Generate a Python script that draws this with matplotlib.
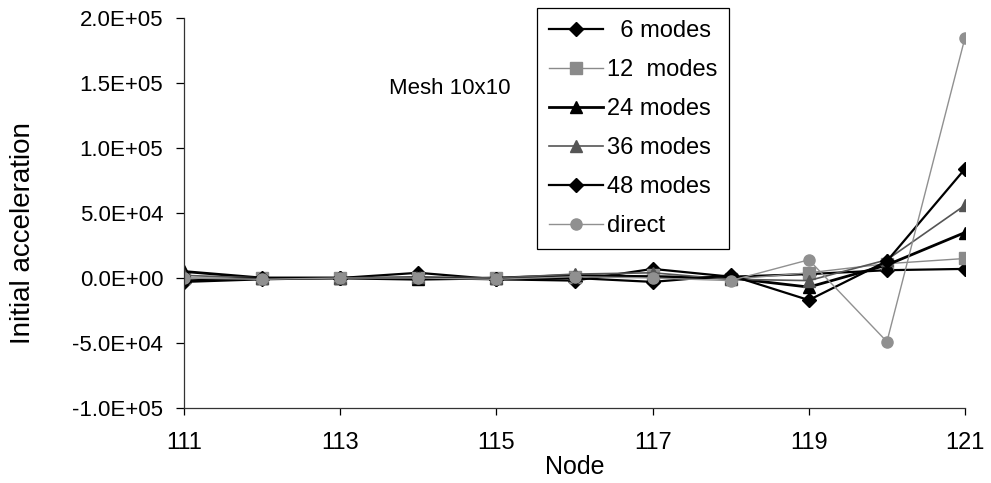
import matplotlib
matplotlib.use("Agg")
import matplotlib.pyplot as plt
from matplotlib.ticker import FuncFormatter, MultipleLocator

plt.rcParams["font.family"] = ["Liberation Sans", "DejaVu Sans"]

# ==============================
# DATA (initial acceleration per node)
# ==============================

nodes = [111, 112, 113, 114, 115, 116, 117, 118, 119, 120, 121]

modes_6 = [-3e3, -1e3, 0, 4e3, -1e3, -2e3, 7e3, 1e3, 3e3, 6e3, 7e3]
modes_12 = [0, 0, 0, 0, 0, 1e3, 2e3, -1e3, 4e3, 11e3, 15e3]
modes_24 = [5e3, 0, 0, -1e3, 0, 2e3, 1e3, 0, -7e3, 10e3, 35e3]
modes_36 = [2e3, 0, 0, 1e3, 0, 3e3, 4e3, -1e3, -2e3, 14e3, 56e3]
modes_48 = [-2e3, 0, 0, 0, -1e3, 0, -3e3, 2e3, -17e3, 13e3, 84e3]
direct = [0, -1e3, 0, 0, -1e3, 1e3, 0, -2e3, 14e3, -49e3, 185e3]

series_labels = ["  6 modes", "12  modes", "24 modes", "36 modes", "48 modes", "direct"]
x_ticks = [111, 113, 115, 117, 119, 121]


# ==============================
# PLOT
# ==============================

fig = plt.figure(figsize=(9.91, 4.83), dpi=100)
ax = fig.add_axes([0.1857, 0.1553, 0.7881, 0.8074])

styles = [
    dict(color="black", lw=1.6, marker="D", ms=7, mfc="black", mec="black"),
    dict(color="#8a8a8a", lw=1.0, marker="s", ms=8, mfc="#8a8a8a", mec="#8a8a8a"),
    dict(color="black", lw=2.0, marker="^", ms=9, mfc="black", mec="black"),
    dict(color="#555555", lw=1.2, marker="^", ms=8, mfc="#555555", mec="#555555"),
    dict(color="black", lw=1.6, marker="D", ms=7, mfc="black", mec="black"),
    dict(color="#909090", lw=1.0, marker="o", ms=8, mfc="#909090", mec="#909090"),
]

for values, label, st in zip(
    [modes_6, modes_12, modes_24, modes_36, modes_48, direct], series_labels, styles
):
    ax.plot(nodes, values, label=label, **st)

ax.set_xlim(111, 121)
ax.set_ylim(-1.0e5, 2.0e5)
ax.set_xticks(x_ticks)
ax.yaxis.set_major_locator(MultipleLocator(5e4))
ax.yaxis.set_major_formatter(FuncFormatter(lambda v, p: "{:.1E}".format(v)))

for side in ["top", "right"]:
    ax.spines[side].set_visible(False)
for side in ["left", "bottom"]:
    ax.spines[side].set_color("#333333")
    ax.spines[side].set_linewidth(0.9)

ax.tick_params(axis="y", direction="out", length=6, width=0.9, pad=9, labelsize=16)
ax.tick_params(axis="x", direction="out", length=5, width=0.9, pad=12, labelsize=17)

ax.set_xlabel("Node", fontsize=18)
ax.xaxis.set_label_coords(0.5, -0.12)
ax.set_ylabel("Initial acceleration", fontsize=20)
ax.yaxis.set_label_coords(-0.19, 0.449)

ax.text(114.4, 1.46e5, "Mesh 10x10", fontsize=16, ha="center", va="center")

leg = ax.legend(
    loc="upper left", bbox_to_anchor=(537 / 991, 1 - 8 / 483),
    bbox_transform=fig.transFigure, fontsize=17,
    frameon=True, fancybox=False, edgecolor="black", framealpha=1,
    handlelength=2.3, handletextpad=0.15, labelspacing=0.72, borderpad=0.5,
    borderaxespad=0.0,
)
leg.get_frame().set_linewidth(0.9)

fig.savefig("out.png", dpi=100)
plt.close(fig)
